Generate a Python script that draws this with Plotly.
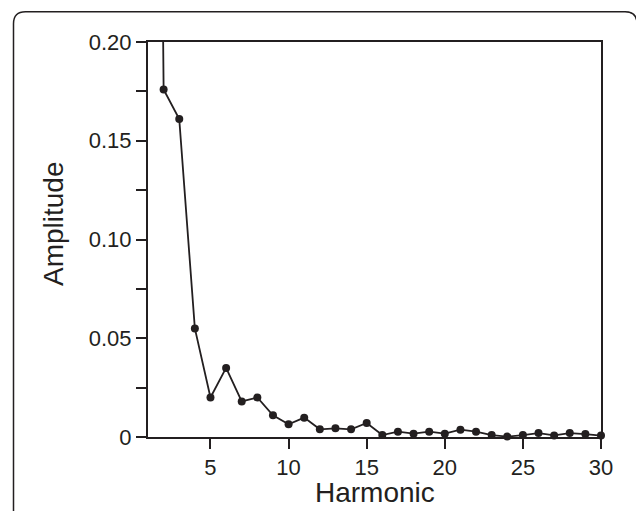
import plotly.graph_objects as go

harmonic = list(range(1, 31))
amplitude = [1.0, 0.176, 0.161, 0.055, 0.020, 0.035, 0.018, 0.020, 0.011, 0.0064,
             0.0098, 0.0039, 0.0044, 0.0039, 0.0071, 0.0010, 0.0027, 0.0017, 0.0027, 0.0017,
             0.0037, 0.0027, 0.0010, 0.0002, 0.0010, 0.0020, 0.0008, 0.0020, 0.0015, 0.0007]

x_tickvals = [5, 10, 15, 20, 25, 30]
x_ticktext = ["5", "10", "15", "20", "25", "30"]
y_tickvals = [0, 0.025, 0.05, 0.075, 0.10, 0.125, 0.15, 0.175, 0.20]
y_ticktext = ["0", "", "0.05", "", "0.10", "", "0.15", "", "0.20"]
x_title = "Harmonic"
y_title = "Amplitude"

INK = "#231f20"
FONT = "Liberation Sans, Arial, sans-serif"
W, H = 636, 511
ML, MR, MT, MB = 148, 35, 42, 74

fig = go.Figure()
fig.add_trace(go.Scatter(
    x=harmonic, y=amplitude, mode="lines+markers",
    line=dict(color=INK, width=1.8),
    marker=dict(color=INK, size=8),
    cliponaxis=False, showlegend=False,
))

axis_common = dict(
    showgrid=False, zeroline=False, showline=True, linecolor=INK, linewidth=2,
    mirror=True, ticks="outside", ticklen=10, tickwidth=2, tickcolor=INK,
    tickfont=dict(family=FONT, size=22, color=INK), automargin=False,
)

fig.update_xaxes(range=[1, 30], tickmode="array", tickvals=x_tickvals, ticktext=x_ticktext,
                 **axis_common)
fig.update_yaxes(range=[0, 0.20], tickmode="array", tickvals=y_tickvals, ticktext=y_ticktext,
                 **axis_common)

pw, ph = W - ML - MR, H - MT - MB
def px(x):
    return (x - ML) / pw
def py(y):
    return (H - MB - y) / ph

# axis titles as annotations for exact placement
fig.add_annotation(text=x_title, xref="paper", yref="paper",
                   x=0.5, y=py(510), xanchor="center", yanchor="bottom",
                   showarrow=False, font=dict(family=FONT, size=28, color=INK))
fig.add_annotation(text=y_title, textangle=-90, xref="paper", yref="paper",
                   x=px(53), y=py(224), xanchor="center", yanchor="middle",
                   showarrow=False, font=dict(family=FONT, size=28, color=INK))

# rounded outer frame
L, T, R, B, r = 13.5, 11.7, 637, 530, 12
path = (f"M {px(L)},{py(B)} L {px(L)},{py(T + r)} Q {px(L)},{py(T)} {px(L + r)},{py(T)} "
        f"L {px(R - r)},{py(T)} Q {px(R)},{py(T)} {px(R)},{py(T + r)} L {px(R)},{py(B)}")
fig.add_shape(type="path", xref="paper", yref="paper", path=path,
              line=dict(color=INK, width=1.5), layer="below")

fig.update_layout(
    width=W, height=H, margin=dict(l=ML, r=MR, t=MT, b=MB),
    paper_bgcolor="white", plot_bgcolor="white",
    font=dict(family=FONT, color=INK),
)

fig.write_html("out.html", config={"displayModeBar": False},
               post_script="document.body.style.margin='0';document.body.style.overflow='hidden';")
